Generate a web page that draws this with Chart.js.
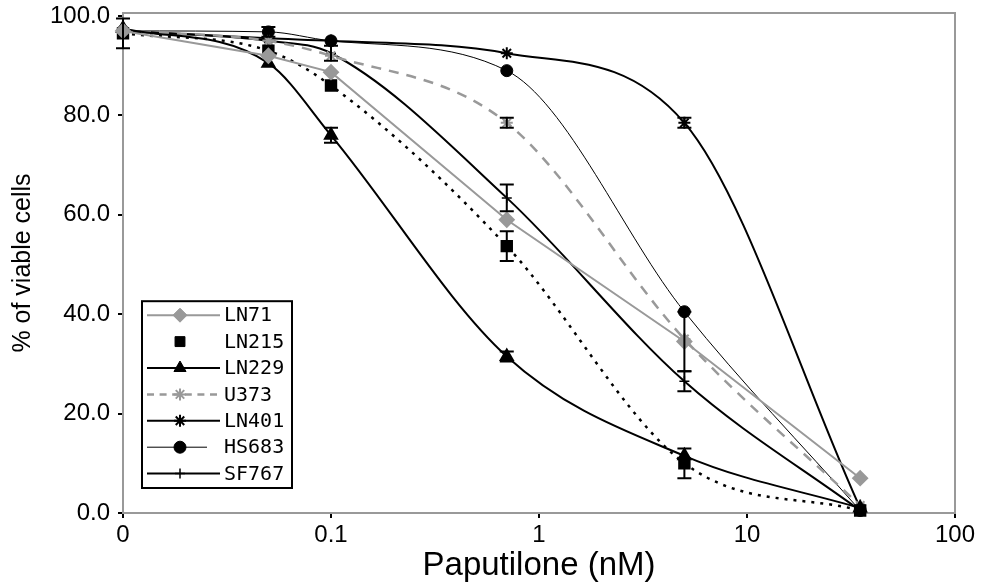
<!DOCTYPE html>
<html>
<head>
<meta charset="utf-8">
<script src="https://cdn.jsdelivr.net/npm/chart.js@4.4.1/dist/chart.umd.min.js"></script>
<style>
  html, body { margin: 0; padding: 0; background: #fff; }
  #wrap { width: 982px; height: 587px; position: relative; }
</style>
</head>
<body>
<div id="wrap"><canvas id="viability"></canvas></div>
<script>
// doses (nM); the first dose is the untreated control, drawn at 0.01 and labelled "0"
const doses = [0.01, 0.05, 0.1, 0.7, 5, 35];
const xTickValues = [0.01, 0.1, 1, 10, 100];
const xTickLabels = ["0", "0.1", "1", "10", "100"];
const yTickValues = [0, 20, 40, 60, 80, 100];

const ln71 = [97, 92, 88.7, 59, 34.5, 7];
const ln215 = [96.5, 93, 86, 53.7, 10, 0.5];
const ln229 = [97.5, 90.5, 76, 31.5, 11.5, 1];
const u373 = [97, 95, 92, 78.5, 35, 1.5];
const ln401 = [97, 95.5, 95, 92.5, 78.5, 1];
const hs683 = [97, 96.8, 95, 89, 40.5, 0.5];
const sf767 = [97, 95, 92.5, 63.4, 26.5, 0.5];

// error bar half-lengths (0 = none)
const ln71Err = [0, 0, 0, 0, 6, 0];
const ln215Err = [3, 0, 0, 3, 3, 0];
const ln229Err = [0, 0, 1.5, 1, 0, 0];
const u373Err = [0, 0, 0, 1, 0, 0];
const ln401Err = [0, 0, 0, 0, 1, 0];
const hs683Err = [0, 1, 0, 0, 0, 0];
const sf767Err = [0, 0, 1.5, 2.7, 2, 0];

const grey = "#999999";

function pts(vals) {
    return doses.map((d, i) => ({ x: d, y: vals[i] }));
}

const datasets = [
    { label: "LN71", data: pts(ln71), err: ln71Err, borderColor: grey, backgroundColor: grey,
      borderWidth: 2, tension: 0, pointStyle: "rectRot", pointRadius: 7 },
    { label: "LN215", data: pts(ln215), err: ln215Err, borderColor: "#000", backgroundColor: "#000",
      borderWidth: 2.5, borderDash: [3, 6], pointStyle: "rect", pointRadius: 7, legendLine: false },
    { label: "LN229", data: pts(ln229), err: ln229Err, borderColor: "#000", backgroundColor: "#000",
      borderWidth: 2, pointStyle: "triangle", pointRadius: 7 },
    { label: "U373", data: pts(u373), err: u373Err, borderColor: grey, backgroundColor: grey,
      borderWidth: 2.5, borderDash: [10, 8], pointStyle: "star", pointRadius: 6, pointBorderWidth: 2 },
    { label: "LN401", data: pts(ln401), err: ln401Err, borderColor: "#000", backgroundColor: "#000",
      borderWidth: 2, pointStyle: "star", pointRadius: 6, pointBorderWidth: 2 },
    { label: "HS683", data: pts(hs683), err: hs683Err, borderColor: "#000", backgroundColor: "#000",
      borderWidth: 1, pointStyle: "circle", pointRadius: 6, legendShort: true },
    { label: "SF767", data: pts(sf767), err: sf767Err, borderColor: "#000", backgroundColor: "#000",
      borderWidth: 2, pointStyle: "cross", pointRadius: 5, pointBorderWidth: 1.5 }
];
datasets.forEach(ds => {
    if (ds.tension === undefined) ds.cubicInterpolationMode = "monotone";
});

// grey frame round the plot area
const framePlugin = {
    id: "frame",
    beforeDatasetsDraw(chart) {
        const a = chart.chartArea, ctx = chart.ctx;
        ctx.save();
        ctx.strokeStyle = grey;
        ctx.lineWidth = 2;
        ctx.strokeRect(a.left, a.top, a.right - a.left, a.bottom - a.top);
        ctx.restore();
    }
};

// vertical error bars with caps
const errorBarPlugin = {
    id: "errorBars",
    afterDatasetsDraw(chart) {
        const ctx = chart.ctx;
        const xs = chart.scales.x, ys = chart.scales.y;
        ctx.save();
        ctx.strokeStyle = "#000";
        ctx.lineWidth = 2;
        chart.data.datasets.forEach(ds => {
            ds.data.forEach((p, i) => {
                const e = ds.err[i];
                if (!e) return;
                const x = xs.getPixelForValue(p.x);
                const y1 = ys.getPixelForValue(p.y + e);
                const y2 = ys.getPixelForValue(p.y - e);
                ctx.beginPath();
                ctx.moveTo(x, y1); ctx.lineTo(x, y2);
                ctx.moveTo(x - 7, y1); ctx.lineTo(x + 7, y1);
                ctx.moveTo(x - 7, y2); ctx.lineTo(x + 7, y2);
                ctx.stroke();
            });
        });
        ctx.restore();
    }
};

// boxed legend inside the lower-left of the plot
const legendBoxPlugin = {
    id: "legendBox",
    afterDraw(chart) {
        const ctx = chart.ctx, a = chart.chartArea;
        const boxW = 150, rowH = 26.4;
        const n = chart.data.datasets.length;
        const boxH = n * rowH + 2;
        const left = a.left + 19, top = a.bottom - 25 - boxH;
        ctx.save();
        ctx.fillStyle = "#fff";
        ctx.fillRect(left, top, boxW, boxH);
        ctx.strokeStyle = "#000";
        ctx.lineWidth = 2;
        ctx.strokeRect(left, top, boxW, boxH);
        ctx.font = "20px 'DejaVu Sans Mono'";
        ctx.textBaseline = "middle";
        chart.data.datasets.forEach((ds, i) => {
            const y = top + 14 + i * rowH;
            const x1 = left + 5, x2 = left + (ds.legendShort ? 65 : 78);
            if (ds.legendLine !== false) {
                ctx.save();
                ctx.strokeStyle = ds.borderColor;
                ctx.lineWidth = ds.borderWidth;
                ctx.setLineDash(ds.borderDash ? ds.borderDash.map(v => v * 0.7) : []);
                ctx.beginPath();
                ctx.moveTo(x1, y); ctx.lineTo(x2, y);
                ctx.stroke();
                ctx.restore();
            }
            ctx.save();
            ctx.fillStyle = ds.backgroundColor;
            ctx.strokeStyle = ds.borderColor;
            ctx.lineWidth = ds.pointBorderWidth || 1;
            Chart.helpers.drawPoint(ctx, {
                pointStyle: ds.pointStyle,
                radius: ds.pointRadius,
                rotation: 0,
                borderWidth: ds.pointBorderWidth || 1
            }, left + 38, y);
            ctx.restore();
            ctx.fillStyle = "#000";
            ctx.fillText(ds.label, left + 82, y + 1);
        });
        ctx.restore();
    }
};

const chart = new Chart(document.getElementById("viability"), {
    type: "line",
    data: { datasets: datasets },
    options: {
        responsive: true,
        maintainAspectRatio: false,
        animation: false,
        clip: false,
        layout: { padding: { top: 13, right: 27, left: 0, bottom: 0 } },
        plugins: {
            legend: { display: false },
            tooltip: { enabled: false }
        },
        elements: {
            point: { borderWidth: 1 }
        },
        scales: {
            x: {
                type: "logarithmic",
                min: 0.01,
                max: 100,
                afterBuildTicks: s => { s.ticks = xTickValues.map(v => ({ value: v })); },
                afterFit: s => { s.height = 74; s.paddingLeft = 0; s.paddingRight = 0; },
                grid: { drawOnChartArea: false, tickLength: 5, color: "#000", lineWidth: 2 },
                border: { color: grey, width: 2 },
                ticks: {
                    autoSkip: false,
                    maxRotation: 0,
                    padding: 3,
                    color: "#000",
                    font: { family: "'Liberation Sans', Arial, sans-serif", size: 24 },
                    callback: (v, i) => xTickLabels[i]
                },
                title: {
                    display: true,
                    text: "Paputilone (nM)",
                    color: "#000",
                    padding: { top: 0, bottom: 1 },
                    font: { family: "'Liberation Sans', Arial, sans-serif", size: 33 }
                }
            },
            y: {
                min: 0,
                max: 100.6,
                afterBuildTicks: s => { s.ticks = yTickValues.map(v => ({ value: v })); },
                afterFit: s => { s.width = 123; s.paddingTop = 0; s.paddingBottom = 0; },
                grid: { drawOnChartArea: false, tickLength: 5, color: "#000", lineWidth: 2 },
                border: { color: grey, width: 2 },
                ticks: {
                    padding: 8,
                    color: "#000",
                    font: { family: "'Liberation Sans', Arial, sans-serif", size: 24 },
                    callback: v => v.toFixed(1)
                },
                title: {
                    display: true,
                    text: "% of viable cells",
                    color: "#000",
                    padding: { top: 8, bottom: 0 },
                    font: { family: "'Liberation Sans', Arial, sans-serif", size: 25 }
                }
            }
        }
    },
    plugins: [framePlugin, errorBarPlugin, legendBoxPlugin]
});
</script>
</body>
</html>
